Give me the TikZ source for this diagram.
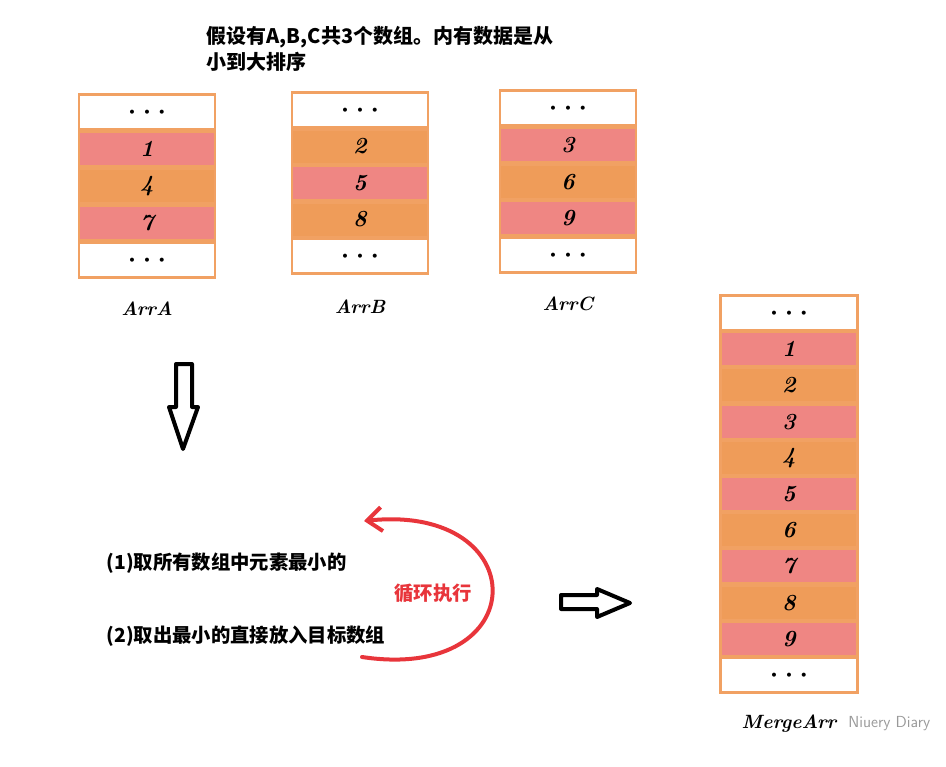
\documentclass[tikz,border=0pt]{standalone}
\usepackage{fontspec}
\newfontfamily\cjk{Noto Sans CJK SC}
\usetikzlibrary{arrows.meta,positioning}
\definecolor{ArrPink}{HTML}{EF8683}
\definecolor{ArrOrange}{HTML}{EF9C59}
\definecolor{ArrEdge}{HTML}{F1A163}
\definecolor{LoopRed}{HTML}{E8353B}
\newcommand{\celldots}{{\scriptsize$\bullet$\hspace{7pt}$\bullet$\hspace{7pt}$\bullet$}}

\begin{document}
\begin{tikzpicture}[x=0.75pt,y=-0.75pt]
    \tikzset{cellbox/.style={draw=ArrEdge,line width=2pt,minimum width=102pt,minimum height=26pt,inner sep=0pt,font=\LARGE\bfseries\itshape},
      arrlabel/.style={font=\Large\bfseries\itshape},
      cjktext/.style={font=\cjk\bfseries\fontsize{14.5}{19}\selectfont,align=left},
      blockarrow/.style={draw=black,line width=3pt,line join=round,fill=white}}
    \useasboundingbox (0,0) rectangle (946,767);
    % three sorted input arrays
    \foreach \v/\c [count=\i] in {\celldots/white,1/ArrPink,4/ArrOrange,7/ArrPink,\celldots/white}
      \node[cellbox,fill=\c] (a\i) at (147,{112+37*(\i-1)}) {\v};
    \foreach \v/\c [count=\i] in {\celldots/white,2/ArrOrange,5/ArrPink,8/ArrOrange,\celldots/white}
      \node[cellbox,fill=\c] (b\i) at (360,{110+36.5*(\i-1)}) {\v};
    \foreach \v/\c [count=\i] in {\celldots/white,3/ArrPink,6/ArrOrange,9/ArrPink,\celldots/white}
      \node[cellbox,fill=\c] (c\i) at (568,{108+36.8*(\i-1)}) {\v};
    \node[arrlabel,below=14pt of a5] (la) {ArrA};
    \node[arrlabel,below=15pt of b5] (lb) {ArrB};
    \node[arrlabel,below=14pt of c5] (lc) {ArrC};
    % merged array
    \foreach \v/\c [count=\i] in {\celldots/white,1/ArrPink,2/ArrOrange,3/ArrPink,4/ArrOrange,5/ArrPink,6/ArrOrange,7/ArrPink,8/ArrOrange,9/ArrPink,\celldots/white}
      \node[cellbox,fill=\c,minimum width=103pt] (m\i) at (789,{313+36.2*(\i-1)}) {\v};
    \node[arrlabel,below=12pt of m11] (lm) {MergeArr};
    \node[font=\sffamily\large,text=black!40,anchor=west,right=2pt of lm] (mark) {Niuery Diary};
    % texts
    \node[cjktext,anchor=north west,font=\cjk\bfseries\fontsize{15}{19}\selectfont] (title) at (202,22) {假设有A,B,C共3个数组。内有数据是从\\小到大排序};
    \node[cjktext,anchor=west] (s1) at (102,563) {(1)取所有数组中元素最小的};
    \node[cjktext,anchor=west] (s2) at (102,636) {(2)取出最小的直接放入目标数组};
    \node[cjktext,text=LoopRed] (looptext) at (433,593) {循环执行};
    % loop arrow
    \coordinate (loopfrom) at (362,657);
    \coordinate (loopto) at (364,521);
    \draw[LoopRed,line width=3pt,line cap=round,-{Straight Barb[length=11pt,width=18pt]}] (loopfrom) .. controls (535,683) and (535,503) .. (loopto);
    % block arrows
    \draw[blockarrow] (176,364) -- (192,364) -- (192,407) -- (198,407) -- (183,449) -- (169,407) -- (176,407) -- cycle;
    \draw[blockarrow] (561,595) -- (597,595) -- (597,589) -- (630,603) -- (597,617) -- (597,609) -- (561,609) -- cycle;
\end{tikzpicture}
\end{document}
